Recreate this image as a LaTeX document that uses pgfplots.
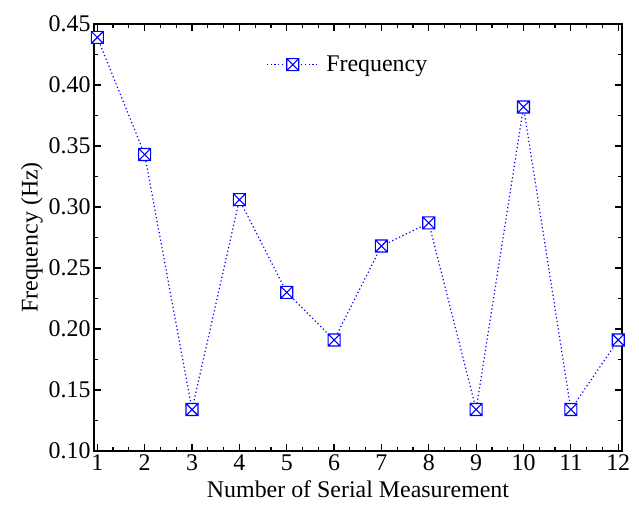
\documentclass[border=0pt]{standalone}
\usepackage{fontspec}
\setmainfont{Liberation Serif}
\usepackage{pgfplots}
\pgfplotsset{compat=1.18}

% square with a cross inside
\pgfdeclareplotmark{boxx}{%
  \pgfpathrectangle{\pgfqpoint{-\pgfplotmarksize}{-\pgfplotmarksize}}{\pgfqpoint{2\pgfplotmarksize}{2\pgfplotmarksize}}%
  \pgfpathmoveto{\pgfqpoint{-\pgfplotmarksize}{-\pgfplotmarksize}}%
  \pgfpathlineto{\pgfqpoint{\pgfplotmarksize}{\pgfplotmarksize}}%
  \pgfpathmoveto{\pgfqpoint{-\pgfplotmarksize}{\pgfplotmarksize}}%
  \pgfpathlineto{\pgfqpoint{\pgfplotmarksize}{-\pgfplotmarksize}}%
  \pgfusepathqfillstroke}

\newcommand\bigfont{\fontsize{24}{28}\selectfont}

\begin{document}
\begin{tikzpicture}
\begin{axis}[
  scale only axis,
  width=528bp, height=427bp,
  xmin=0.93, xmax=12.08,
  ymin=0.10, ymax=0.45,
  xtick={1,...,12},
  ytick={0.10,0.15,0.20,0.25,0.30,0.35,0.40,0.45},
  minor x tick num=2,
  minor y tick num=1,
  tick align=inside,
  major tick length=7bp,
  minor tick length=4bp,
  axis line style={line width=1.4bp},
  every tick/.style={black, line width=1.2bp},
  tick label style={font=\bigfont},
  /pgf/number format/assume math mode=true,
  yticklabel style={/pgf/number format/fixed, /pgf/number format/fixed zerofill, /pgf/number format/precision=2},
  xlabel={Number of Serial Measurement},
  ylabel={Frequency (Hz)},
  xlabel style={font=\bigfont, yshift=-3bp},
  ylabel style={font=\bigfont, yshift=-1bp},
  legend style={draw=none, fill=none, at={(0.32,0.905)}, anchor=west, font=\bigfont,
    /tikz/every odd column/.append style={column sep=5bp}},
  legend image code/.code={%
    \draw[mark repeat=2, mark phase=2] plot coordinates {(0bp,0bp) (26bp,0bp) (52bp,0bp)};},
  legend cell align=left,
]
\addplot[blue, dash pattern=on 1.2bp off 2.6bp, line width=1.2bp, mark=boxx, mark size=6bp,
  mark options={solid, fill=white, line width=1.1bp}]
  coordinates {
    (1,0.439) (2,0.343) (3,0.134) (4,0.306) (5,0.230) (6,0.191)
    (7,0.268) (8,0.287) (9,0.134) (10,0.382) (11,0.134) (12,0.191)
  };
\addlegendentry{Frequency}
\end{axis}
\path (current axis.south west) +(-94bp,-54bp) (current axis.north east) +(17bp,24bp);
\end{tikzpicture}
\end{document}
